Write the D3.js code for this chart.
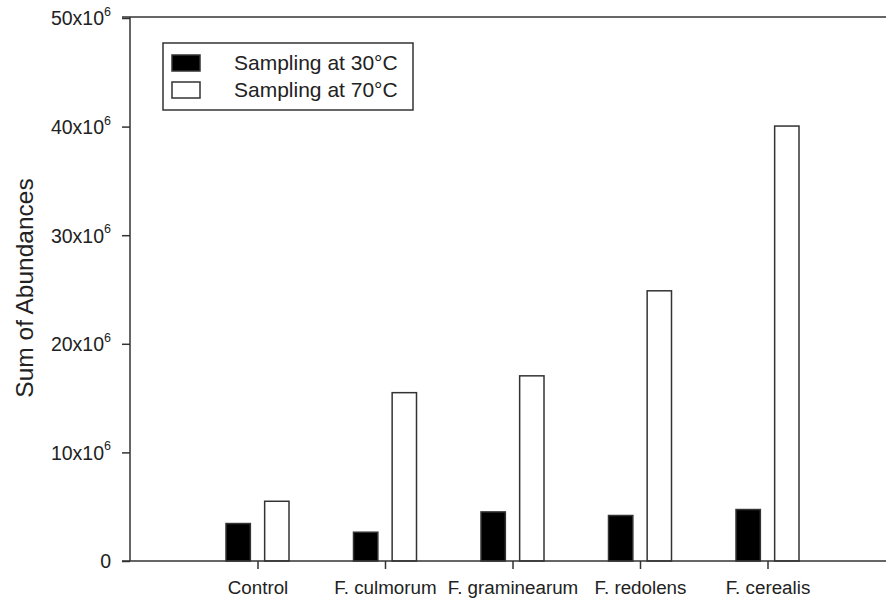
<!DOCTYPE html>
<html>
<head>
<meta charset="utf-8">
<script src="https://cdn.jsdelivr.net/npm/d3@7"></script>
<style>
  body { margin: 0; background: #fff; }
  svg { display: block; font-family: "Liberation Sans", Arial, sans-serif; }
</style>
</head>
<body>
<svg id="chart" width="886" height="599"></svg>
<script>
const categories = ['Control', 'F. culmorum', 'F. graminearum', 'F. redolens', 'F. cerealis'];
const seriesNames = ['Sampling at 30°C', 'Sampling at 70°C'];
const at30 = [3.45e6, 2.65e6, 4.52e6, 4.19e6, 4.74e6];
const at70 = [5.5e6, 15.5e6, 17.05e6, 24.88e6, 40.05e6];
const yTicks = [0, 10e6, 20e6, 30e6, 40e6, 50e6];

const ink = '#333';
const textInk = '#222';
const svg = d3.select('#chart');

const plotLeft = 130, plotRight = 895, plotTop = 18, plotBottom = 561;

// categories sit at 1..5 on a 0..6 axis
const x = d3.scalePoint()
  .domain(['', ...categories, ' '])
  .range([plotLeft, plotRight]);
const xSub = d3.scaleBand()
  .domain(seriesNames)
  .range([-31.5, 31.5])
  .paddingInner(0.37);
const y = d3.scaleLinear().domain([0, 50e6]).range([plotBottom, plotTop]);

const data = categories.map((c, i) => ({ cat: c, values: [at30[i], at70[i]] }));

// bars
const groups = svg.append('g').selectAll('g')
  .data(data)
  .join('g')
  .attr('transform', d => `translate(${x(d.cat)},0)`);

groups.selectAll('rect')
  .data(d => d.values.map((v, k) => ({ name: seriesNames[k], v })))
  .join('rect')
  .attr('x', d => xSub(d.name))
  .attr('width', xSub.bandwidth())
  .attr('y', d => y(d.v))
  .attr('height', d => y(0) - y(d.v))
  .attr('fill', (d, k) => k === 0 ? '#000' : '#fff')
  .attr('stroke', ink)
  .attr('stroke-width', 1.5);

// y axis
const yAxis = svg.append('g')
  .attr('transform', `translate(${plotLeft},0)`)
  .call(d3.axisLeft(y).tickValues(yTicks).tickSize(8).tickPadding(11).tickFormat(() => ''));
yAxis.select('.domain').remove();
yAxis.selectAll('line').attr('stroke', ink).attr('stroke-width', 1.5);
yAxis.selectAll('text').each(function (d) {
  const t = d3.select(this)
    .attr('fill', textInk)
    .attr('font-size', 19.5)
    .attr('dy', '0.35em');
  if (d === 0) { t.text('0'); return; }
  t.append('tspan').text(`${d / 1e6}x10`);
  t.append('tspan').text('6').attr('font-size', 12.5).attr('dy', '-0.75em');
});

// x axis
const xAxis = svg.append('g')
  .attr('transform', `translate(0,${plotBottom})`)
  .call(d3.axisBottom(x).tickValues(categories).tickSize(8).tickPadding(12));
xAxis.select('.domain').remove();
xAxis.selectAll('line').attr('stroke', ink).attr('stroke-width', 1.5);
xAxis.selectAll('text').attr('fill', textInk).attr('font-size', 18.8);

// frame lines: left, bottom, top
svg.append('line').attr('x1', plotLeft).attr('x2', plotLeft).attr('y1', plotTop - 1).attr('y2', plotBottom)
  .attr('stroke', ink).attr('stroke-width', 1.5);
svg.append('line').attr('x1', plotLeft - 8).attr('x2', plotRight).attr('y1', plotBottom).attr('y2', plotBottom)
  .attr('stroke', ink).attr('stroke-width', 1.5);
svg.append('line').attr('x1', plotLeft - 8).attr('x2', plotRight).attr('y1', plotTop - 1).attr('y2', plotTop - 1)
  .attr('stroke', ink).attr('stroke-width', 1.5);

// y title
svg.append('text')
  .attr('transform', 'translate(33,288) rotate(-90)')
  .attr('text-anchor', 'middle')
  .attr('font-size', 24.5)
  .attr('fill', textInk)
  .text('Sum of Abundances');

// legend
const legend = svg.append('g').attr('transform', 'translate(163,43)');
legend.append('rect')
  .attr('width', 250).attr('height', 67)
  .attr('fill', '#fff').attr('stroke', ink).attr('stroke-width', 1.5);
seriesNames.forEach((name, k) => {
  const row = legend.append('g').attr('transform', `translate(9,${12 + k * 27})`);
  row.append('rect')
    .attr('width', 28).attr('height', 16)
    .attr('fill', k === 0 ? '#000' : '#fff')
    .attr('stroke', ink).attr('stroke-width', 1.5);
  row.append('text')
    .attr('x', 62).attr('y', 15)
    .attr('font-size', 21).attr('fill', textInk)
    .text(name);
});
</script>
</body>
</html>
